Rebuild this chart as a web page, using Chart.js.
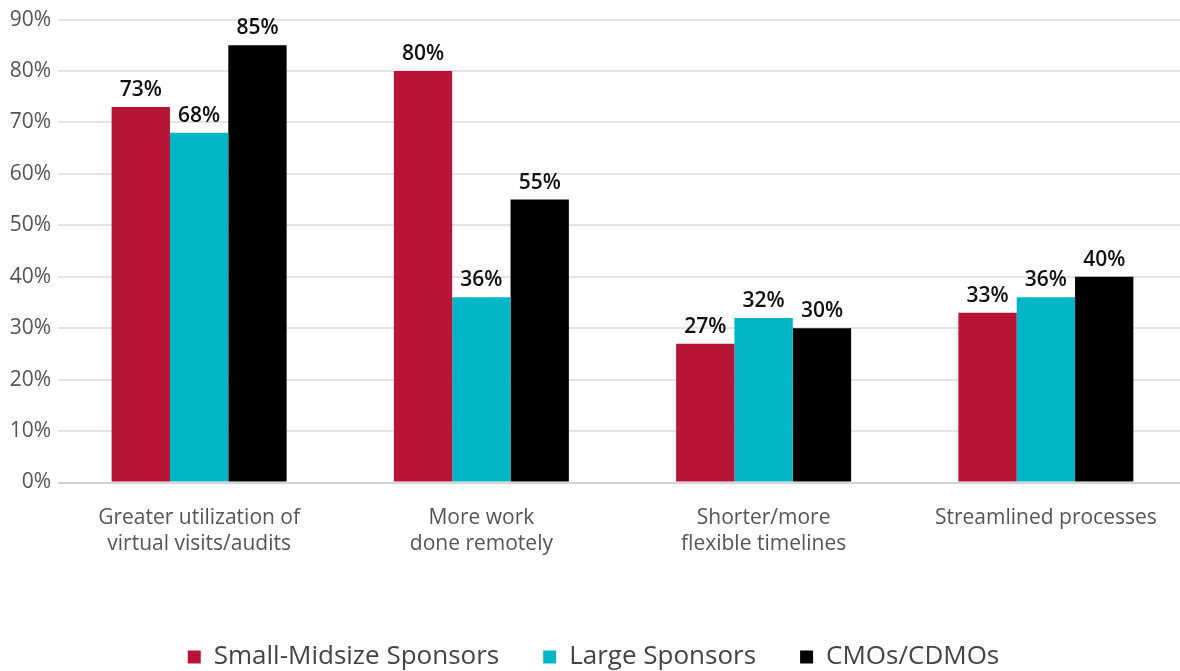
<!DOCTYPE html>
<html>
<head>
<meta charset="utf-8">
<script src="https://cdn.jsdelivr.net/npm/chart.js@4/dist/chart.umd.min.js"></script>
<style>
  html, body { margin: 0; padding: 0; background: #fff; overflow: hidden; }
  #wrap { width: 1187px; height: 671px; position: relative; }
</style>
</head>
<body>
<div id="wrap"><canvas id="c"></canvas></div>
<script>
const categories = [
  ["Greater utilization of", "virtual visits/audits"],
  ["More work", "done remotely"],
  ["Shorter/more", "flexible timelines"],
  ["Streamlined processes"]
];
const smallMidsize = [73, 80, 27, 33];
const largeSponsors = [68, 36, 32, 36];
const cmos = [85, 55, 30, 40];
const yTicks = [0, 10, 20, 30, 40, 50, 60, 70, 80, 90];

const FONT = "'Open Sans', Lato, sans-serif";

// Value labels above each bar
const valueLabels = {
  id: 'valueLabels',
  afterDatasetsDraw(chart) {
    const ctx = chart.ctx;
    ctx.save();
    ctx.font = "600 21px " + FONT;
    ctx.fillStyle = '#111';
    ctx.textAlign = 'center';
    ctx.textBaseline = 'alphabetic';
    chart.data.datasets.forEach((ds, i) => {
      chart.getDatasetMeta(i).data.forEach((bar, j) => {
        ctx.fillText(ds.data[j] + '%', bar.x, bar.y - 11);
      });
    });
    ctx.restore();
  }
};

new Chart(document.getElementById('c'), {
  type: 'bar',
  data: {
    labels: categories,
    datasets: [
      { label: 'Small-Midsize Sponsors', data: smallMidsize, backgroundColor: '#B81435' },
      { label: 'Large Sponsors', data: largeSponsors, backgroundColor: '#00B5C6' },
      { label: 'CMOs/CDMOs', data: cmos, backgroundColor: '#000000' }
    ]
  },
  options: {
    responsive: true,
    maintainAspectRatio: false,
    animation: false,
    layout: { padding: { top: 8, right: 0, left: 0, bottom: -9 } },
    datasets: { bar: { categoryPercentage: 0.62, barPercentage: 1.0 } },
    scales: {
      x: {
        grid: { display: false, drawTicks: false },
        border: { display: false },
        ticks: {
          color: '#555',
          font: { family: FONT, size: 21, lineHeight: 1.25 },
          padding: 22,
          maxRotation: 0,
          autoSkip: false
        },
        afterFit(scale) { scale.height += 21; }
      },
      y: {
        min: 0,
        max: 90,
        afterBuildTicks(scale) { scale.ticks = yTicks.map(v => ({ value: v })); },
        afterFit(scale) { scale.width = 58; },
        grid: {
          color: (c) => c.tick && c.tick.value === 0 ? '#d4d4d4' : '#e4e4e4',
          lineWidth: 2,
          drawTicks: false
        },
        border: { display: false },
        ticks: {
          color: '#555',
          font: { family: FONT, size: 21 },
          padding: 7,
          callback: (v) => v + '%'
        }
      }
    },
    plugins: {
      legend: {
        position: 'bottom',
        labels: {
          color: '#444',
          font: { family: FONT, size: 26 },
          boxWidth: 13,
          boxHeight: 13,
          padding: 44
        }
      },
      tooltip: { enabled: false }
    }
  },
  plugins: [valueLabels]
});
</script>
</body>
</html>
